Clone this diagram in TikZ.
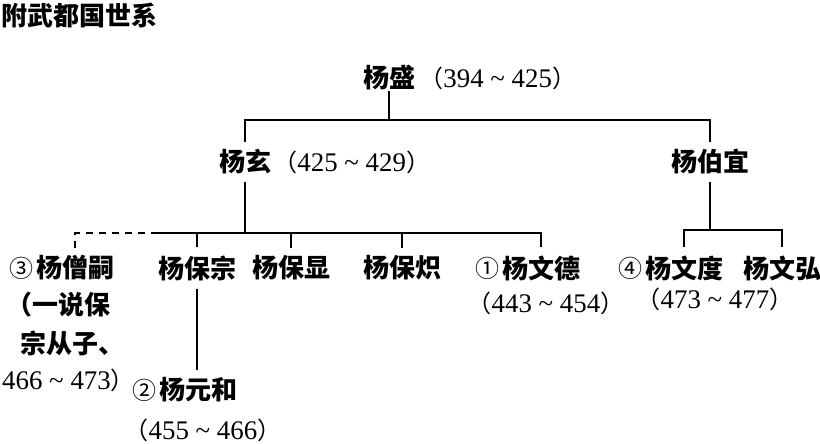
\documentclass[tikz,border=0pt]{standalone}
\usepackage{fontspec}
\setmainfont{Noto Sans CJK SC}
\newfontfamily\numfont{Liberation Serif}[Scale=1.12]
\usetikzlibrary{positioning}

\newcommand{\yrs}[2]{（{\numfont #1 \textasciitilde\ #2}）}

\tikzset{
  link/.style={line width=1.8pt},
  person/.style={font=\fontsize{26}{30}\selectfont\bfseries, inner sep=1pt, outer ysep=7pt},
  anno/.style={font=\fontsize{24}{28}\selectfont, inner sep=1pt},
}

\begin{document}
\begin{tikzpicture}[x=1pt, y=-1pt]
\useasboundingbox (0,0) rectangle (820,444);

\node[person, anchor=west] (title) at (0,16) {附武都国世系};

% generations
\node[person, outer ysep=0pt] (sheng) at (389,78) {杨盛};
\node[anno, right=2pt of sheng] (shengyr) {\yrs{394}{425}};
\node[person] (xuan) at (245,162) {杨玄};
\node[anno, right=0pt of xuan] (xuanyr) {\yrs{425}{429}};
\node[person] (boyi) at (710,162) {杨伯宜};

\node[person] (sengsi) at (75,268) {杨僧嗣};
\node[anno, left=0pt of sengsi] (n3) {③};
\node[person] (baozong) at (197,268) {杨保宗};
\node[person] (baoxian) at (291,268) {杨保显};
\node[person] (baochi) at (402,268) {杨保炽};
\node[person] (wende) at (541,268) {杨文德};
\node[anno, left=0pt of wende] (n1) {①};
\node[person] (wendu) at (684,268) {杨文度};
\node[anno, left=0pt of wendu] (n4) {④};
\node[person] (wenhong) at (782,268) {杨文弘};

\node[person] (yuanhe) at (198,390) {杨元和};
\node[anno, left=0pt of yuanhe] (n2) {②};

% notes and years
\node[person] (note1) at (58,305) {（一说保};
\node[person] (note2) at (72,343) {宗从子、};
\node[anno, anchor=west] (note3) at (1,380) {{\numfont 466 \textasciitilde\ 473}）};
\node[anno] (wendeyr) at (546,303) {\yrs{443}{454}};
\node[anno] (wenduyr) at (715,299) {\yrs{473}{477}};
\node[anno] (yuanheyr) at (203,430) {\yrs{455}{466}};

% rows of the tree
\coordinate (top) at (0,120);
\coordinate (mid) at (0,233);
\coordinate (rgt) at (0,230);
\coordinate (dashend) at (152,233);

\draw[link] (sheng.south) -- (sheng.south |- top);
\draw[link] (xuan.north) -- (xuan.north |- top) -- (boyi.north |- top) -- (boyi.north);
\draw[link] (xuan.south) -- (xuan.south |- mid);
\draw[link, dash pattern=on 7pt off 6pt] (sengsi.north) -- (sengsi.north |- mid) -- (dashend);
\draw[link] (dashend) -- (wende.north |- mid) -- (wende.north);
\foreach \n in {baozong, baoxian, baochi}
  \draw[link] (\n.north) -- (\n.north |- mid);
\draw[link] (boyi.south) -- (boyi.south |- rgt);
\draw[link] (wendu.north) -- (wendu.north |- rgt) -- (wenhong.north |- rgt) -- (wenhong.north);
\draw[link] (baozong.south) -- (baozong.south |- yuanhe.north);
\end{tikzpicture}
\end{document}
